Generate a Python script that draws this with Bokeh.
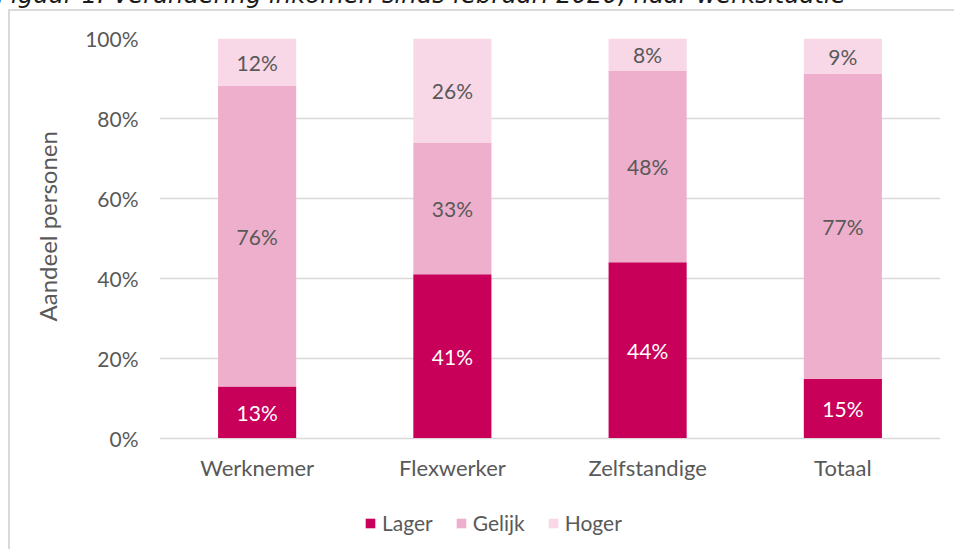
from bokeh.plotting import figure
from bokeh.models import (ColumnDataSource, FactorRange, Range1d, NumeralTickFormatter,
                          Legend, LegendItem, FixedTicker, Div, Title)
from bokeh.core.properties import value
from bokeh.layouts import column
from bokeh.embed import file_html
from bokeh.resources import INLINE

# ---- data ----
categories = ["Werknemer", "Flexwerker", "Zelfstandige", "Totaal"]
lager = [13, 41, 44, 15]
gelijk = [76, 33, 48, 77]
hoger = [12, 26, 8, 9]
series_names = ["Lager", "Gelijk", "Hoger"]
series_colors = ["#C8005A", "#EDAFCB", "#F8D7E6"]
label_colors = ["#FFFFFF", "#595959", "#595959"]
y_ticks = [0, 0.2, 0.4, 0.6, 0.8, 1.0]
y_label = "Aandeel personen"
title_text = "Figuur 1: Verandering inkomen sinds februari 2020, naar werksituatie"

FONT = "Lato"
GRAY = "#595959"
FS = "21px"

# 100% stacked shares
series_vals = [lager, gelijk, hoger]
totals = [sum(t) for t in zip(*series_vals)]
shares = [[v / t for v, t in zip(vals, totals)] for vals in series_vals]
data = {"cat": categories}
for name, sh in zip(series_names, shares):
    data[name] = sh
source = ColumnDataSource(data)

# segment label positions (middle of each segment)
lx, ly, lt, lc = [], [], [], []
bottoms = [0.0] * len(categories)
for vals, sh, col in zip(series_vals, shares, label_colors):
    for i, cat in enumerate(categories):
        lx.append(cat)
        ly.append(bottoms[i] + sh[i] / 2)
        lt.append(f"{vals[i]}%")
        lc.append(col)
        bottoms[i] += sh[i]
label_source = ColumnDataSource(dict(x=lx, y=ly, text=lt, color=lc))
cat_source = ColumnDataSource(dict(x=categories, text=categories))

# frame extends below 0 so the category labels and legend are drawn inside it
p = figure(x_range=FactorRange(*categories, range_padding=0), y_range=Range1d(-0.264, 1),
           width=946, height=540, output_backend="svg", toolbar_location=None,
           min_border_left=148, min_border_right=16, min_border_top=27, min_border_bottom=8)
p.styles = {"border-left": "2px solid #d9d9d9", "border-top": "2px solid #d9d9d9"}
p.margin = (0, 0, 0, 8)

renderers = p.vbar_stack(series_names, x="cat", width=0.4, color=series_colors,
                         line_width=0, source=source)

p.text(x="x", y="y", text="text", text_color="color", source=label_source,
       text_align="center", text_baseline="middle",
       text_font=value(FONT), text_font_size=FS)

# category labels under the bars
p.text(x="x", y=-0.075, text="text", source=cat_source, text_color=GRAY,
       text_align="center", text_baseline="middle",
       text_font=value(FONT), text_font_size="22px")

p.outline_line_color = None
p.xgrid.grid_line_color = None
p.ygrid.ticker = FixedTicker(ticks=y_ticks)
p.ygrid.grid_line_color = "#d9d9d9"
p.ygrid.grid_line_width = 1.5

p.xaxis.visible = False

p.yaxis.ticker = FixedTicker(ticks=y_ticks)
p.yaxis.formatter = NumeralTickFormatter(format="0%")
p.yaxis.axis_line_color = None
p.yaxis.major_tick_line_color = None
p.yaxis.minor_tick_line_color = None
p.yaxis.major_label_standoff = 15
p.yaxis.major_label_text_font = FONT
p.yaxis.major_label_text_font_size = FS
p.yaxis.major_label_text_color = GRAY

# y-axis title beside the 0-100% scale
ytitle = Title(text=y_label, align="left", offset=222, standoff=41,
               text_font=FONT, text_font_size="24px", text_font_style="normal",
               text_color=GRAY)
p.add_layout(ytitle, "left")

legend = Legend(items=[LegendItem(label=n, renderers=[r]) for n, r in zip(series_names, renderers)],
                orientation="horizontal", location=(205, 8),
                border_line_color=None, background_fill_alpha=0,
                glyph_width=12, glyph_height=12, label_standoff=6, spacing=22,
                padding=0, margin=0,
                label_text_font=FONT, label_text_font_size=FS, label_text_color=GRAY)
p.add_layout(legend, "center")

# figure caption above the chart (cut off at the top as in the source picture)
title = Div(text=title_text, width=960, height=28, margin=(-19, 0, 0, -3),
            styles={"font-family": "DejaVu Sans", "font-style": "italic", "font-size": "24.3px",
                    "color": "#1a1a1a", "white-space": "nowrap", "line-height": "28px"})

layout = column(title, p)
open("out.html", "w").write(file_html(layout, INLINE))
